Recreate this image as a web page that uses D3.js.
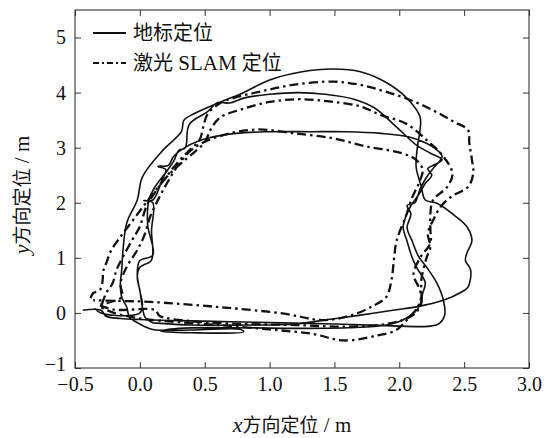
<!DOCTYPE html>
<html>
<head>
<meta charset="utf-8">
<script src="https://cdn.jsdelivr.net/npm/d3@7"></script>
<style>
  html, body { margin: 0; padding: 0; background: #fff; }
  svg { display: block; }
</style>
</head>
<body>
<svg id="chart" width="544" height="438"></svg>
<script>
// Axis ticks
const xTicks = [-0.5, 0, 0.5, 1, 1.5, 2, 2.5, 3];
const yTicks = [-1, 0, 1, 2, 3, 4, 5];

// Series names
const seriesNames = ["地标定位", "激光 SLAM 定位"];

// Landmark-based localisation track, lap by lap (x, y in metres)
const landmarkLap1 = [
  [-0.44,0.05],[-0.30,0.05],[-0.26,-0.06],[-0.15,-0.10],[0.0,-0.12],[0.3,-0.14],[0.7,-0.16],
  [1.1,-0.18],[1.5,-0.20],[1.9,-0.23],[2.24,-0.24],[2.31,-0.19],[2.35,-0.04],[2.34,0.23],
  [2.29,0.54],[2.22,0.80],[2.15,1.02],[2.10,1.30],[2.06,1.55],[2.09,1.80],[2.06,1.95],
  [2.12,2.00],[2.16,2.25],[2.22,2.50],[2.26,2.62],[2.33,2.84],[2.29,2.96],[2.21,3.08],
  [2.07,3.20],[1.86,3.26],[1.59,3.29],[1.32,3.29],[1.00,3.29],[0.74,3.26],[0.52,3.17],
  [0.36,3.02],[0.26,2.84],[0.22,2.68],[0.14,2.66],[0.20,2.60],[0.17,2.41],[0.10,2.05],
  [0.03,2.04],[0.10,2.00],[0.09,1.50],[0.09,0.96],[0.0,0.83],[-0.02,0.65],[0.0,0.41],
  [0.02,0.10],[0.04,-0.08],[0.10,-0.18]
];
const landmarkLap2 = [
  [0.10,-0.18],[0.4,-0.22],[0.8,-0.22],[1.2,-0.20],[1.45,-0.12],[1.70,-0.04],[1.95,0.05],
  [2.13,0.11],[2.34,0.23],[2.48,0.38],[2.53,0.47],[2.55,0.78],[2.51,0.95],[2.52,1.08],
  [2.56,1.32],[2.52,1.57],[2.42,1.78],[2.29,1.99],[2.20,2.05],[2.17,2.29],[2.13,2.65],
  [2.14,3.02],[2.16,3.32],[2.16,3.56],[2.07,3.87],[1.91,4.17],[1.70,4.38],[1.49,4.43],
  [1.25,4.38],[1.00,4.23],[0.79,3.99],[0.63,3.84],[0.42,3.62],[0.34,3.50],[0.32,3.29],
  [0.18,2.96],[0.02,2.47],[-0.02,2.05],[-0.10,1.64],[-0.13,1.14],[-0.14,0.78],
  [-0.15,0.54],[-0.14,0.29],[-0.10,0.10],[-0.08,-0.08],[0.0,-0.20]
];
const landmarkLap3 = [
  [0.0,-0.20],[0.10,-0.30],[0.4,-0.31],[0.78,-0.30],[0.80,-0.34],[0.4,-0.36],[0.16,-0.33],
  [0.3,-0.28],[0.8,-0.27],[1.2,-0.28],[1.6,-0.27],[1.9,-0.22],[2.05,-0.10],[2.15,0.10],
  [2.18,0.35],[2.20,0.55],[2.14,0.80],[2.10,1.00],[2.06,1.30],[2.03,1.55],[2.05,1.75],
  [2.09,1.95],[2.15,2.15],[2.20,2.35],[2.25,2.50],[2.22,2.62],[2.28,2.70],[2.33,2.78],
  [2.24,2.90],[2.13,3.05],[1.99,3.35],[1.81,3.72],[1.65,3.88],[1.43,3.97],[1.22,4.00],
  [1.00,3.97],[0.80,3.90],[0.69,3.81],[0.60,3.82],[0.52,3.65],[0.38,3.42],[0.35,3.00],
  [0.30,2.95],[0.26,2.75],[0.20,2.55],[0.12,2.30],[0.07,2.05],[0.06,1.60],[0.10,1.05],
  [0.0,0.95],[-0.02,0.70],[0.0,0.40],[0.02,0.15],[0.0,0.0],[-0.10,-0.05],[-0.30,0.0],
  [-0.35,0.08]
];

// Laser SLAM localisation track, lap by lap (x, y in metres)
const slamLap1 = [
  [-0.38,0.27],[-0.36,0.36],[-0.31,0.41],[-0.29,0.54],[-0.28,0.78],[-0.26,0.90],[-0.22,1.14],
  [-0.15,1.38],[-0.08,1.60],[0.0,1.85],[0.08,2.10],[0.18,2.40],[0.28,2.70],[0.38,2.95],
  [0.46,3.14],[0.49,3.39],[0.52,3.60],[0.62,3.81],[0.72,3.90],[0.93,4.02],[1.18,4.14],
  [1.49,4.20],[1.70,4.14],[1.89,4.02],[2.08,3.87],[2.26,3.68],[2.42,3.47],[2.53,3.32],
  [2.54,3.08],[2.56,2.78],[2.57,2.53],[2.53,2.29],[2.40,2.11],[2.32,1.93],[2.26,1.68],
  [2.22,1.44],[2.24,1.20],[2.21,1.00],[2.17,0.60],[2.17,0.30],[2.14,0.10],[2.05,-0.15],
  [1.97,-0.32],[1.83,-0.41],[1.57,-0.50],[1.33,-0.38],[1.0,-0.30],[0.6,-0.22],[0.2,-0.15],
  [0.0,-0.10],[-0.20,0.0],[-0.30,0.10]
];
const slamLap2 = [
  [-0.30,0.10],[-0.26,0.36],[-0.21,0.54],[-0.18,0.78],[-0.13,1.02],[-0.06,1.32],[0.0,1.57],
  [0.05,1.93],[0.12,2.20],[0.20,2.45],[0.30,2.68],[0.40,2.88],[0.50,3.10],[0.55,3.35],
  [0.62,3.55],[0.79,3.70],[1.00,3.83],[1.22,3.88],[1.46,3.84],[1.70,3.75],[1.86,3.59],
  [2.05,3.44],[2.21,3.14],[2.34,2.84],[2.41,2.53],[2.37,2.29],[2.26,2.05],[2.24,1.81],
  [2.24,1.50],[2.24,1.27],[2.16,1.00],[2.11,0.70],[2.16,0.41],[2.17,0.17],[2.10,-0.05],
  [1.90,-0.20],[1.60,-0.25],[1.20,-0.22],[0.8,-0.20],[0.4,-0.15],[0.15,-0.05],[0.12,0.05],
  [-0.20,0.06],[-0.32,0.15]
];
const slamLap3 = [
  [-0.32,0.15],[-0.14,0.29],[-0.15,0.54],[-0.10,0.84],[-0.02,1.14],[0.03,1.38],[0.08,1.75],
  [0.15,2.10],[0.22,2.40],[0.30,2.70],[0.42,3.00],[0.63,3.22],[0.90,3.33],[1.19,3.26],
  [1.49,3.17],[1.75,3.02],[2.02,2.90],[2.13,2.78],[2.18,2.60],[2.15,2.35],[2.10,2.10],
  [2.05,1.75],[1.98,1.32],[1.96,1.00],[1.94,0.60],[1.90,0.29],[1.80,0.13],[1.62,-0.05],
  [1.41,-0.13],[1.10,-0.01],[0.59,0.11],[0.08,0.20],[-0.20,0.22],[-0.36,0.23]
];

const landmarkTrack = [...landmarkLap1, ...landmarkLap2, ...landmarkLap3];
const slamTrack = [...slamLap1, ...slamLap2, ...slamLap3];

const svg = d3.select("#chart");
const M = { left: 75, right: 529, top: 10, bottom: 368 };

const x = d3.scaleLinear().domain([-0.5, 3.0]).range([M.left, M.right]);
const y = d3.scaleLinear().domain([-1, 5.5]).range([M.bottom, M.top]);

const serif = '"Liberation Serif", "Times New Roman", serif';
const cjk = '"Noto Sans CJK SC", "Noto Sans CJK JP", sans-serif';
const ink = "#111";

// Clip for the trajectories
svg.append("defs").append("clipPath").attr("id", "plotClip")
  .append("rect").attr("x", M.left).attr("y", M.top)
  .attr("width", M.right - M.left).attr("height", M.bottom - M.top);

// Trajectories
const line = d3.line().x(d => x(d[0])).y(d => y(d[1])).curve(d3.curveCatmullRom.alpha(0.5));
const plot = svg.append("g").attr("clip-path", "url(#plotClip)");

plot.append("path").datum(slamTrack)
  .attr("d", line).attr("fill", "none").attr("stroke", ink)
  .attr("stroke-width", 2.3).attr("stroke-dasharray", "9,4,2.5,4")
  .attr("stroke-linejoin", "round");

plot.append("path").datum(landmarkTrack)
  .attr("d", line).attr("fill", "none").attr("stroke", ink)
  .attr("stroke-width", 1.6).attr("stroke-linejoin", "round");

// Axes with inward ticks on all four sides
const fmtX = d3.format(".1f");
const fmtY = d3.format("d");
const tick = 6;

const gx = svg.append("g").attr("transform", `translate(0,${M.bottom})`)
  .call(d3.axisBottom(x).tickValues(xTicks).tickFormat(fmtX).tickSizeInner(-tick).tickSizeOuter(0).tickPadding(9));
const gy = svg.append("g").attr("transform", `translate(${M.left},0)`)
  .call(d3.axisLeft(y).tickValues(yTicks).tickFormat(fmtY).tickSizeInner(-tick).tickSizeOuter(0).tickPadding(9));
const gt = svg.append("g").attr("transform", `translate(0,${M.top})`)
  .call(d3.axisTop(x).tickValues(xTicks).tickFormat("").tickSizeInner(-tick).tickSizeOuter(0));
const gr = svg.append("g").attr("transform", `translate(${M.right},0)`)
  .call(d3.axisRight(y).tickValues(yTicks).tickFormat("").tickSizeInner(-tick).tickSizeOuter(0));

[gx, gy, gt, gr].forEach(g => {
  g.attr("font-family", serif).attr("font-size", 20);
  g.select(".domain").remove();
  g.selectAll(".tick line").attr("stroke", "#333").attr("stroke-width", 1);
  g.selectAll(".tick text").attr("fill", ink);
});
// The lowest y label sits just above the corner so it clears the first x label
gy.selectAll(".tick").filter(d => d === -1).select("text").attr("dy", "0.1em");

svg.append("rect").attr("x", M.left).attr("y", M.top)
  .attr("width", M.right - M.left).attr("height", M.bottom - M.top)
  .attr("fill", "none").attr("stroke", "#333").attr("stroke-width", 1.1);

// Axis titles
const xt = svg.append("text").attr("x", 292).attr("y", 432)
  .attr("text-anchor", "middle").attr("fill", ink).attr("font-size", 20);
xt.append("tspan").attr("font-family", serif).attr("font-style", "italic").attr("font-size", 22).text("x");
xt.append("tspan").attr("font-family", cjk).attr("font-size", 19).text("方向定位");
xt.append("tspan").attr("font-family", serif).attr("font-size", 21).text(" / m");

const yt = svg.append("text").attr("transform", "translate(29,195) rotate(-90)")
  .attr("text-anchor", "middle").attr("fill", ink).attr("font-size", 20);
yt.append("tspan").attr("font-family", serif).attr("font-style", "italic").attr("font-size", 22).text("y");
yt.append("tspan").attr("font-family", cjk).attr("font-size", 19).text("方向定位");
yt.append("tspan").attr("font-family", serif).attr("font-size", 21).text(" / m");

// Legend
const legend = svg.append("g");
const legendRows = [
  { name: seriesNames[0], dash: null, width: 1.8, yPos: 33 },
  { name: seriesNames[1], dash: "6,3,2,3", width: 2, yPos: 63 }
];
legendRows.forEach(r => {
  legend.append("line").attr("x1", 93).attr("x2", 126).attr("y1", r.yPos).attr("y2", r.yPos)
    .attr("stroke", ink).attr("stroke-width", r.width)
    .attr("stroke-dasharray", r.dash);
});
legend.append("text").attr("x", 133).attr("y", 40).attr("font-family", cjk)
  .attr("font-size", 20).attr("fill", ink).text(seriesNames[0]);
const l2 = legend.append("text").attr("x", 133).attr("y", 70).attr("fill", ink);
l2.append("tspan").attr("font-family", cjk).attr("font-size", 20).text("激光");
l2.append("tspan").attr("font-family", serif).attr("font-size", 21).text(" SLAM ");
l2.append("tspan").attr("font-family", cjk).attr("font-size", 20).text("定位");
</script>
</body>
</html>
